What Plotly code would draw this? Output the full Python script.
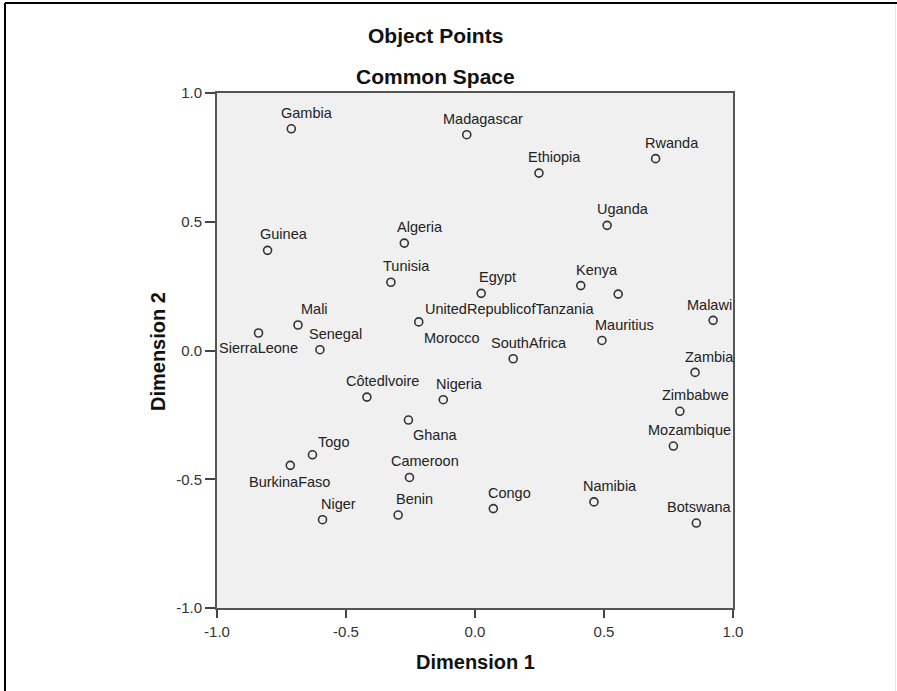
import plotly.graph_objects as go

# Object points in the common space (two-dimensional solution)
countries = [
    "Gambia", "Madagascar", "Rwanda", "Ethiopia", "Uganda", "Guinea",
    "Algeria", "Tunisia", "Egypt", "Kenya", "UnitedRepublicofTanzania",
    "Mali", "SierraLeone", "Senegal", "Morocco", "Malawi", "Mauritius",
    "SouthAfrica", "Zambia", "Nigeria", "Zimbabwe", "Mozambique",
    "Côtedlvoire", "Ghana", "Togo", "BurkinaFaso", "Cameroon", "Niger",
    "Benin", "Congo", "Namibia", "Botswana",
]
dimension_1 = [
    -0.712, -0.032, 0.700, 0.248, 0.512, -0.804,
    -0.274, -0.326, 0.024, 0.410, 0.555,
    -0.686, -0.839, -0.601, -0.218, 0.923, 0.492,
    0.148, 0.853, -0.123, 0.794, 0.769,
    -0.419, -0.258, -0.630, -0.716, -0.254, -0.591,
    -0.298, 0.071, 0.461, 0.858,
]
dimension_2 = [
    0.861, 0.838, 0.745, 0.689, 0.486, 0.389,
    0.417, 0.265, 0.222, 0.252, 0.219,
    0.099, 0.068, 0.003, 0.111, 0.117, 0.039,
    -0.032, -0.085, -0.191, -0.236, -0.371,
    -0.181, -0.270, -0.405, -0.446, -0.493, -0.657,
    -0.639, -0.614, -0.588, -0.670,
]

tick_values = [-1.0, -0.5, 0.0, 0.5, 1.0]
tick_labels = ["-1.0", "-0.5", "0.0", "0.5", "1.0"]

# Label placement (pixel shift of the label centre from its point)
DEFAULT_SHIFT = (16, 16)
LABEL_SHIFTS = {
    "UnitedRepublicofTanzania": (-109, -15),
    "SierraLeone": (0, -15),
    "Morocco": (33, -16),
    "Malawi": (-4, 15),
    "Mauritius": (23, 15),
    "Ghana": (27, -15),
    "Togo": (21, 13),
    "BurkinaFaso": (-1, -17),
    "Botswana": (3, 16),
    "Zambia": (14, 15),
}

W, H = 897, 691
ML, MR, MT, MB = 217, 164, 93, 83
PW, PH = W - ML - MR, H - MT - MB
FONT = "Liberation Sans, Arial, sans-serif"


def px_x(px):
    return (px - ML) / PW


def px_y(py):
    return (H - MB - py) / PH


fig = go.Figure()
fig.add_trace(go.Scatter(
    x=dimension_1, y=dimension_2, mode="markers",
    marker=dict(symbol="circle-open", size=8, color="#333333",
                line=dict(width=1.6, color="#333333")),
    hoverinfo="text", text=countries, showlegend=False,
))

annotations = []
for name, x, y in zip(countries, dimension_1, dimension_2):
    dx, dy = LABEL_SHIFTS.get(name, DEFAULT_SHIFT)
    annotations.append(dict(
        x=x, y=y, xref="x", yref="y", text=name, showarrow=False,
        xanchor="center", yanchor="middle", xshift=dx, yshift=dy,
        font=dict(family=FONT, size=14.5, color="#222222"),
    ))

# Titles and axis titles
annotations += [
    dict(x=px_x(435), y=px_y(35), xref="paper", yref="paper",
         text="<b>Object Points</b>", showarrow=False,
         xanchor="center", yanchor="middle",
         font=dict(family=FONT, size=21, color="#111111")),
    dict(x=px_x(435), y=px_y(77), xref="paper", yref="paper",
         text="<b>Common Space</b>", showarrow=False,
         xanchor="center", yanchor="middle",
         font=dict(family=FONT, size=21, color="#111111")),
    dict(x=px_x(475), y=px_y(662), xref="paper", yref="paper",
         text="<b>Dimension 1</b>", showarrow=False,
         xanchor="center", yanchor="middle",
         font=dict(family=FONT, size=20, color="#111111")),
    dict(x=px_x(158), y=px_y(352), xref="paper", yref="paper",
         text="<b>Dimension 2</b>", showarrow=False, textangle=-90,
         xanchor="center", yanchor="middle",
         font=dict(family=FONT, size=20, color="#111111")),
]

axis_style = dict(
    range=[-1.0, 1.0], tickmode="array", tickvals=tick_values,
    ticktext=tick_labels, ticks="outside", tickwidth=2,
    tickcolor="#444444", showgrid=False, zeroline=False,
    showline=True, linecolor="#555555", linewidth=2, mirror=True,
    tickfont=dict(family=FONT, size=15, color="#333333"),
)

fig.update_layout(
    width=W, height=H,
    margin=dict(l=ML, r=MR, t=MT, b=MB),
    paper_bgcolor="white", plot_bgcolor="#f0f0f0",
    xaxis=dict(axis_style, ticklen=8, ticklabelstandoff=1),
    yaxis=dict(axis_style, ticklen=10, ticklabelstandoff=0),
    annotations=annotations,
    shapes=[
        # outer chart frame
        dict(type="line", xref="paper", yref="paper",
             x0=px_x(5), x1=px_x(5), y0=px_y(3), y1=px_y(H + 5),
             line=dict(color="black", width=2)),
        dict(type="line", xref="paper", yref="paper",
             x0=px_x(5), x1=px_x(W + 5), y0=px_y(3), y1=px_y(3),
             line=dict(color="black", width=2)),
        dict(type="line", xref="paper", yref="paper",
             x0=px_x(W - 1.5), x1=px_x(W - 1.5), y0=px_y(4), y1=px_y(H + 5),
             line=dict(color="#e8e8e8", width=1)),
    ],
)

fig.write_html("out.html")
